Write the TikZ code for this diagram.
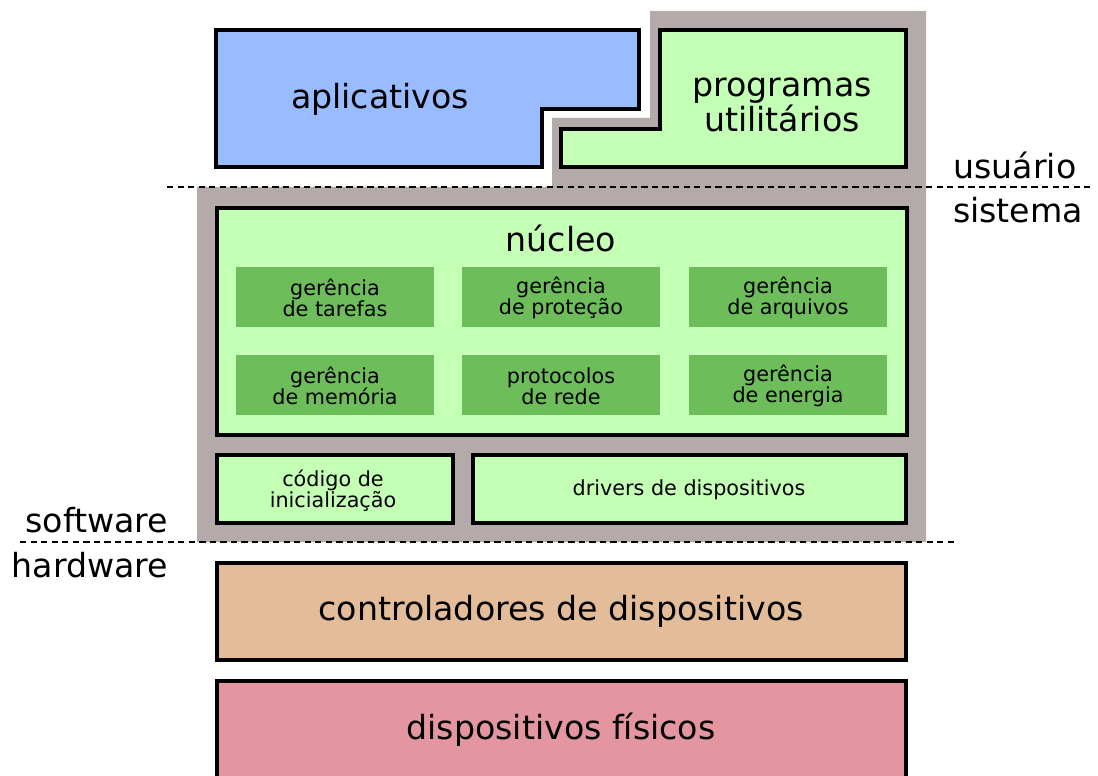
\documentclass[tikz,border=0pt]{standalone}
\usepackage{fontspec}
\setmainfont{DejaVu Sans}
\usepackage{tikz}
\usetikzlibrary{arrows}

\definecolor{azulapp}{HTML}{99BBFF}
\definecolor{verdeclaro}{HTML}{C3FFB4}
\definecolor{verdeescuro}{HTML}{6DBE5A}
\definecolor{cinza}{HTML}{B4AAAA}
\definecolor{bege}{HTML}{E3BC99}
\definecolor{rosa}{HTML}{E3969F}

\tikzset{
  camada/.style={draw=black, line width=2.2pt, line join=miter},
  modulo/.style={fill=verdeescuro},
  grande/.style={font=\fontsize{18.9}{17.6}\selectfont, align=center},
  pequeno/.style={font=\fontsize{11.8}{11.9}\selectfont, align=center},
  divisa/.style={dashed, line width=0.8pt, dash pattern=on 3.6pt off 2.4pt}
}

\begin{document}
\begin{tikzpicture}[x=0.02cm, y=-0.02cm]
\clip (0,0) rectangle (1098,776);
\fill[white] (0,0) rectangle (1098,776);

% area do sistema e dos utilitarios
\fill[cinza] (650,11) -- (926,11) -- (926,542) -- (197,542) -- (197,187)
  -- (552,187) -- (552,118) -- (650,118) -- cycle;

% camada de usuario
\draw[camada, fill=azulapp] (216,30) -- (639,30) -- (639,109) -- (542,109)
  -- (542,167) -- (216,167) -- cycle;
\node[grande] (aplic) at (380,99) {aplicativos};
\draw[camada, fill=verdeclaro] (660,30) -- (906,30) -- (906,167) -- (561,167)
  -- (561,129) -- (660,129) -- cycle;
\node[grande] (util) at (782,105) {programas\\utilitários};

% nucleo
\draw[camada, fill=verdeclaro] (217,208) rectangle (907,435);
\node[grande] (nucleo) at (561,238) {núcleo};
\fill[modulo] (236,267) rectangle (434,327);
\fill[modulo] (462,267) rectangle (660,327);
\fill[modulo] (689,267) rectangle (887,327);
\fill[modulo] (236,355) rectangle (434,415);
\fill[modulo] (462,355) rectangle (660,415);
\fill[modulo] (689,355) rectangle (887,415);
\node[pequeno] (tarefas) at (335,298) {gerência\\de tarefas};
\node[pequeno] (protecao) at (561,298) {gerência\\de proteção};
\node[pequeno] (arquivos) at (788,298) {gerência\\de arquivos};
\node[pequeno] (memoria) at (335,386) {gerência\\de memória};
\node[pequeno] (rede) at (561,386) {protocolos\\de rede};
\node[pequeno] (energia) at (788,386) {gerência\\de energia};

% inicializacao e drivers
\draw[camada, fill=verdeclaro] (217,455) rectangle (453,523);
\node[pequeno] (boot) at (333,491) {código de\\inicialização};
\draw[camada, fill=verdeclaro] (473,455) rectangle (906,523);
\node[pequeno] (drivers) at (689,490) {drivers de dispositivos};

% hardware
\draw[camada, fill=bege] (217,563) rectangle (906,660);
\node[grande] (control) at (561,611) {controladores de dispositivos};
\draw[camada, fill=rosa] (217,681) rectangle (906,800);
\node[grande] (fisicos) at (561,730) {dispositivos físicos};

% divisas
\draw[divisa] (167,187) -- (1092,187);
\draw[divisa] (20,542) -- (957,542);
\node[grande] (usuario) at (1015,165) {usuário};
\node[grande] (sistema) at (1018,210) {sistema};
\node[grande] (software) at (97,520) {software};
\node[grande] (hardware) at (90,565) {hardware};
\end{tikzpicture}
\end{document}
